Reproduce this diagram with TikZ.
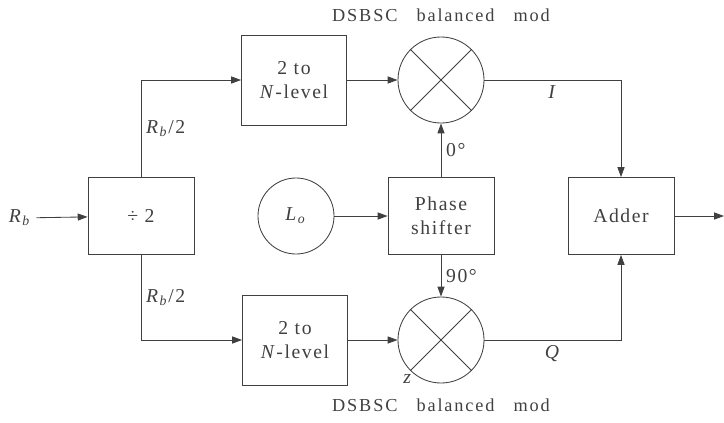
\documentclass[tikz,border=0pt]{standalone}
\usepackage{fontspec}
\setmainfont{Liberation Serif}[LetterSpace=8]
\newfontfamily\capfont{Liberation Serif}[LetterSpace=10,WordSpace=3]
\usepackage{tikz}
\usetikzlibrary{arrows.meta}

\newcommand{\rbit}{\textit{R}\textsubscript{\textit{b}}}

\begin{document}
\begin{tikzpicture}[x=0.025cm, y=-0.025cm, black!75, line width=0.6pt,
  >={Triangle[length=7pt,width=5pt]},
  every node/.style={font=\fontsize{14}{17}\selectfont},
  blk/.style={draw, minimum width=2.65cm, minimum height=1.925cm, align=center},
  lvl/.style={blk, minimum width=2.625cm, minimum height=2.25cm},
  mix/.style={draw, circle, minimum size=2.15cm, inner sep=0pt}]
  \useasboundingbox (0,0) rectangle (724,422);

  % blocks
  \node (rb) at (20,218) {\rbit};
  \node[blk] (div) at (141,216) {÷ 2};
  \node[lvl] (lvlI) at (294,80) {2 to\\\textit{N}-level};
  \node[lvl] (lvlQ) at (295,340) {2 to\\\textit{N}-level};
  \node[draw, circle, minimum size=1.9cm] (lo) at (296,216) {\textit{L}\textsubscript{\textit{o}}};
  \node[blk] (phase) at (441,216) {Phase\\shifter};
  \node[mix] (modI) at (441,80) {};
  \node[mix] (modQ) at (441,340) {};
  \node[blk] (adder) at (621,216) {Adder};
  \coordinate (out) at (724,216);

  \draw (modI.45) -- (modI.225) (modI.135) -- (modI.315);
  \draw (modQ.45) -- (modQ.225) (modQ.135) -- (modQ.315);

  \node[font=\capfont\fontsize{13}{17}\selectfont] (capI) at (441,15) {DSBSC balanced mod};
  \node[font=\capfont\fontsize{13}{17}\selectfont] (capQ) at (441,405) {DSBSC balanced mod};
  \node (z) at (408,379) {\textit{z}};

  % signal paths
  \draw[->] (rb) -- (div);
  \draw[->] (div.north) |- (lvlI.west) node[pos=0.25, right] {\rbit/2};
  \draw[->] (div.south) |- (lvlQ.west) node[pos=0.25, right] {\rbit/2};
  \draw[->] (lvlI) -- (modI);
  \draw[->] (lvlQ) -- (modQ);
  \draw[->] (lo) -- (phase);
  \draw[->] (phase) -- (modI) node[midway, right] {0°};
  \draw[->] (phase) -- (modQ) node[midway, right] {90°};
  \draw[->] (modI) -| (adder) node[pos=0.25, below] {\textit{I}};
  \draw[->] (modQ) -| (adder) node[pos=0.25, below] {\textit{Q}};
  \draw[->] (adder) -- (out);
\end{tikzpicture}
\end{document}
